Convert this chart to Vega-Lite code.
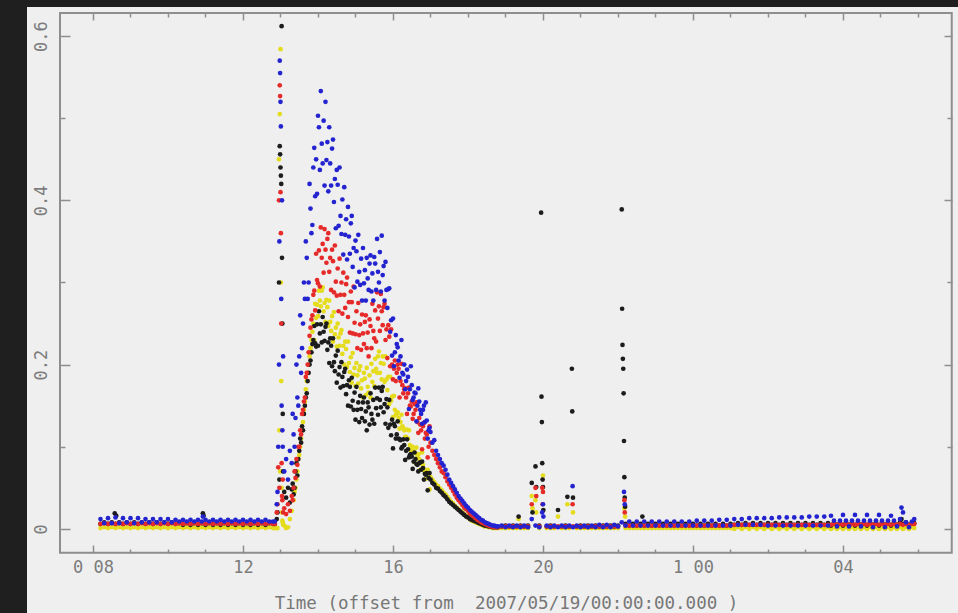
{
  "$schema": "https://vega.github.io/schema/vega-lite/v6.json",
  "width": 931,
  "height": 606,
  "autosize": {"type": "none"},
  "padding": {"left": 27, "top": 7, "right": 0, "bottom": 0},
  "background": "#1f1f1f",
  "config": {
    "view": {"fill": "#efefef", "stroke": null},
    "axis": {
      "domain": false,
      "grid": false,
      "labelFont": "DejaVu Sans Mono",
      "labelFontSize": 17,
      "labelColor": "#7c7c7c",
      "tickColor": "#8e8e8e",
      "tickWidth": 1.5,
      "titleFont": "DejaVu Sans Mono",
      "titleFontWeight": "normal",
      "titleFontSize": 17.5,
      "titleColor": "#777777"
    },
    "point": {"filled": true, "size": 22, "opacity": 1}
  },
  "resolve": {"axis": {"x": "independent", "y": "independent"}},
  "datasets": {
    "flux": [
      {"t": 8.2, "yellow": 0.001, "red": 0.006, "black": 0.006, "blue": 0.012},
      {"t": 8.3, "yellow": 0.002, "red": 0.007, "black": 0.008, "blue": 0.007},
      {"t": 8.4, "yellow": 0.001, "red": 0.006, "black": 0.006, "blue": 0.013},
      {"t": 8.5, "yellow": 0.002, "red": 0.007, "black": 0.008, "blue": 0.007},
      {"t": 8.58, "yellow": null, "red": null, "black": 0.019, "blue": null},
      {"t": 8.6, "yellow": 0.001, "red": 0.006, "black": 0.006, "blue": 0.014},
      {"t": 8.62, "yellow": null, "red": null, "black": 0.016, "blue": null},
      {"t": 8.7, "yellow": 0.002, "red": 0.007, "black": 0.008, "blue": 0.007},
      {"t": 8.8, "yellow": 0.001, "red": 0.006, "black": 0.006, "blue": 0.013},
      {"t": 8.9, "yellow": 0.002, "red": 0.007, "black": 0.008, "blue": 0.008},
      {"t": 9.0, "yellow": 0.001, "red": 0.006, "black": 0.006, "blue": 0.013},
      {"t": 9.1, "yellow": 0.002, "red": 0.007, "black": 0.008, "blue": 0.007},
      {"t": 9.2, "yellow": 0.001, "red": 0.006, "black": 0.006, "blue": 0.013},
      {"t": 9.3, "yellow": 0.002, "red": 0.007, "black": 0.008, "blue": 0.008},
      {"t": 9.4, "yellow": 0.001, "red": 0.006, "black": 0.006, "blue": 0.012},
      {"t": 9.5, "yellow": 0.002, "red": 0.007, "black": 0.008, "blue": 0.008},
      {"t": 9.6, "yellow": 0.001, "red": 0.006, "black": 0.006, "blue": 0.012},
      {"t": 9.7, "yellow": 0.002, "red": 0.007, "black": 0.008, "blue": 0.008},
      {"t": 9.8, "yellow": 0.001, "red": 0.006, "black": 0.006, "blue": 0.012},
      {"t": 9.9, "yellow": 0.002, "red": 0.007, "black": 0.008, "blue": 0.008},
      {"t": 10.0, "yellow": 0.001, "red": 0.006, "black": 0.006, "blue": 0.012},
      {"t": 10.1, "yellow": 0.002, "red": 0.007, "black": 0.008, "blue": 0.008},
      {"t": 10.2, "yellow": 0.001, "red": 0.006, "black": 0.006, "blue": 0.011},
      {"t": 10.3, "yellow": 0.002, "red": 0.007, "black": 0.007, "blue": 0.009},
      {"t": 10.4, "yellow": 0.001, "red": 0.006, "black": 0.005, "blue": 0.011},
      {"t": 10.5, "yellow": 0.002, "red": 0.007, "black": 0.007, "blue": 0.009},
      {"t": 10.6, "yellow": 0.001, "red": 0.006, "black": 0.005, "blue": 0.011},
      {"t": 10.7, "yellow": 0.002, "red": 0.007, "black": 0.007, "blue": 0.009},
      {"t": 10.8, "yellow": 0.001, "red": 0.006, "black": 0.005, "blue": 0.011},
      {"t": 10.9, "yellow": 0.002, "red": 0.007, "black": 0.007, "blue": 0.009},
      {"t": 10.93, "yellow": null, "red": null, "black": 0.019, "blue": 0.015},
      {"t": 10.95, "yellow": null, "red": null, "black": 0.016, "blue": null},
      {"t": 11.0, "yellow": 0.001, "red": 0.006, "black": 0.005, "blue": 0.011},
      {"t": 11.1, "yellow": 0.002, "red": 0.007, "black": 0.007, "blue": 0.009},
      {"t": 11.2, "yellow": 0.001, "red": 0.006, "black": 0.005, "blue": 0.011},
      {"t": 11.3, "yellow": 0.002, "red": 0.007, "black": 0.007, "blue": 0.009},
      {"t": 11.4, "yellow": 0.001, "red": 0.006, "black": 0.005, "blue": 0.011},
      {"t": 11.5, "yellow": 0.002, "red": 0.007, "black": 0.007, "blue": 0.009},
      {"t": 11.6, "yellow": 0.001, "red": 0.006, "black": 0.005, "blue": 0.011},
      {"t": 11.7, "yellow": 0.002, "red": 0.007, "black": 0.007, "blue": 0.009},
      {"t": 11.8, "yellow": 0.001, "red": 0.006, "black": 0.005, "blue": 0.011},
      {"t": 11.9, "yellow": 0.002, "red": 0.007, "black": 0.007, "blue": 0.009},
      {"t": 12.0, "yellow": 0.001, "red": 0.006, "black": 0.005, "blue": 0.011},
      {"t": 12.1, "yellow": 0.002, "red": 0.007, "black": 0.007, "blue": 0.009},
      {"t": 12.2, "yellow": 0.001, "red": 0.006, "black": 0.005, "blue": 0.011},
      {"t": 12.3, "yellow": 0.002, "red": 0.007, "black": 0.007, "blue": 0.009},
      {"t": 12.4, "yellow": 0.001, "red": 0.006, "black": 0.005, "blue": 0.011},
      {"t": 12.5, "yellow": 0.002, "red": 0.007, "black": 0.007, "blue": 0.009},
      {"t": 12.6, "yellow": 0.001, "red": 0.006, "black": 0.005, "blue": 0.011},
      {"t": 12.7, "yellow": 0.002, "red": 0.007, "black": 0.007, "blue": 0.009},
      {"t": 12.8, "yellow": 0.001, "red": 0.006, "black": 0.006, "blue": 0.009},
      {"t": 12.85, "yellow": 0.001, "red": 0.006, "black": 0.006, "blue": 0.009},
      {"t": 12.9, "yellow": 0.001, "red": 0.02, "black": 0.012, "blue": 0.03},
      {"t": 12.92, "yellow": 0.001, "red": 0.03, "black": 0.02, "blue": 0.045},
      {"t": 12.94, "yellow": null, "red": 0.075, "black": null, "blue": 0.1},
      {"t": 12.96, "yellow": 0.45, "red": 0.4, "black": 0.3, "blue": 0.2},
      {"t": 12.97, "yellow": 0.12, "red": 0.05, "black": 0.06, "blue": 0.35},
      {"t": 12.98, "yellow": 0.505, "red": 0.54, "black": 0.466, "blue": 0.57},
      {"t": 12.99, "yellow": 0.07, "red": 0.527, "black": 0.456, "blue": 0.555},
      {"t": 13.0, "yellow": 0.584, "red": 0.41, "black": 0.44, "blue": 0.52},
      {"t": 13.01, "yellow": 0.3, "red": 0.36, "black": 0.43, "blue": 0.49},
      {"t": 13.02, "yellow": 0.18, "red": 0.25, "black": 0.42, "blue": 0.28},
      {"t": 13.03, "yellow": 0.05, "red": 0.08, "black": 0.612, "blue": 0.15},
      {"t": 13.04, "yellow": 0.02, "red": 0.04, "black": 0.33, "blue": 0.4},
      {"t": 13.05, "yellow": 0.01, "red": 0.035, "black": 0.25, "blue": 0.12},
      {"t": 13.06, "yellow": 0.008, "red": 0.06, "black": 0.14, "blue": 0.1},
      {"t": 13.07, "yellow": 0.005, "red": 0.02, "black": 0.07, "blue": 0.21},
      {"t": 13.1, "yellow": 0.004, "red": 0.025, "black": 0.045, "blue": 0.07},
      {"t": 13.15, "yellow": 0.001, "red": 0.018, "black": 0.038, "blue": 0.085},
      {"t": 13.2, "yellow": 0.002, "red": 0.03, "black": 0.05, "blue": 0.06},
      {"t": 13.25, "yellow": 0.012, "red": 0.022, "black": 0.032, "blue": 0.095},
      {"t": 13.3, "yellow": 0.022, "red": 0.04, "black": 0.048, "blue": 0.08},
      {"t": 13.325, "yellow": null, "red": 0.035, "black": 0.055, "blue": 0.14},
      {"t": 13.35, "yellow": 0.035, "red": 0.05, "black": 0.042, "blue": 0.115},
      {"t": 13.375, "yellow": 0.045, "red": 0.07, "black": 0.05, "blue": 0.1},
      {"t": 13.4, "yellow": 0.05, "red": 0.062, "black": 0.07, "blue": 0.135},
      {"t": 13.425, "yellow": 0.06, "red": 0.085, "black": 0.08, "blue": 0.2},
      {"t": 13.45, "yellow": 0.07, "red": 0.078, "black": 0.065, "blue": 0.16},
      {"t": 13.475, "yellow": 0.085, "red": 0.1, "black": 0.085, "blue": 0.15},
      {"t": 13.5, "yellow": 0.09, "red": 0.1, "black": 0.095, "blue": 0.21},
      {"t": 13.525, "yellow": 0.1, "red": 0.12, "black": 0.11, "blue": 0.26},
      {"t": 13.55, "yellow": 0.11, "red": 0.115, "black": 0.105, "blue": 0.19},
      {"t": 13.575, "yellow": 0.12, "red": 0.14, "black": 0.125, "blue": 0.22},
      {"t": 13.6, "yellow": 0.13, "red": 0.145, "black": 0.12, "blue": 0.25},
      {"t": 13.625, "yellow": 0.145, "red": 0.155, "black": 0.14, "blue": 0.3},
      {"t": 13.65, "yellow": 0.155, "red": 0.16, "black": 0.15, "blue": 0.28},
      {"t": 13.675, "yellow": 0.17, "red": 0.185, "black": 0.16, "blue": 0.35},
      {"t": 13.7, "yellow": 0.18, "red": 0.19, "black": 0.165, "blue": 0.33},
      {"t": 13.725, "yellow": 0.19, "red": 0.2, "black": 0.18, "blue": 0.28},
      {"t": 13.75, "yellow": 0.2, "red": 0.215, "black": 0.19, "blue": 0.3},
      {"t": 13.775, "yellow": 0.21, "red": 0.235, "black": 0.2, "blue": 0.42},
      {"t": 13.8, "yellow": 0.22, "red": 0.245, "black": 0.205, "blue": 0.39},
      {"t": 13.825, "yellow": 0.23, "red": 0.255, "black": 0.215, "blue": 0.36},
      {"t": 13.85, "yellow": 0.24, "red": 0.26, "black": 0.225, "blue": 0.37},
      {"t": 13.875, "yellow": 0.25, "red": 0.285, "black": 0.23, "blue": 0.44},
      {"t": 13.9, "yellow": 0.23, "red": 0.29, "black": 0.247, "blue": 0.464},
      {"t": 13.925, "yellow": 0.274, "red": 0.266, "black": 0.226, "blue": 0.405},
      {"t": 13.95, "yellow": 0.257, "red": 0.335, "black": 0.222, "blue": 0.45},
      {"t": 13.975, "yellow": 0.273, "red": 0.303, "black": 0.249, "blue": 0.408},
      {"t": 14.0, "yellow": 0.259, "red": 0.299, "black": 0.223, "blue": 0.503},
      {"t": 14.025, "yellow": 0.29, "red": 0.339, "black": 0.265, "blue": 0.489},
      {"t": 14.05, "yellow": 0.278, "red": 0.295, "black": 0.238, "blue": 0.437},
      {"t": 14.075, "yellow": 0.271, "red": 0.367, "black": 0.249, "blue": 0.533},
      {"t": 14.1, "yellow": 0.29, "red": 0.33, "black": 0.227, "blue": 0.469},
      {"t": 14.125, "yellow": 0.294, "red": 0.347, "black": 0.258, "blue": 0.445},
      {"t": 14.15, "yellow": 0.265, "red": 0.312, "black": 0.24, "blue": 0.497},
      {"t": 14.175, "yellow": 0.275, "red": 0.365, "black": 0.229, "blue": 0.418},
      {"t": 14.2, "yellow": 0.252, "red": 0.34, "black": 0.246, "blue": 0.52},
      {"t": 14.225, "yellow": 0.279, "red": 0.324, "black": 0.25, "blue": 0.449},
      {"t": 14.25, "yellow": 0.27, "red": 0.353, "black": 0.218, "blue": 0.471},
      {"t": 14.275, "yellow": 0.247, "red": 0.36, "black": 0.227, "blue": 0.411},
      {"t": 14.3, "yellow": 0.278, "red": 0.313, "black": 0.202, "blue": 0.489},
      {"t": 14.325, "yellow": 0.252, "red": 0.33, "black": 0.232, "blue": 0.445},
      {"t": 14.35, "yellow": 0.241, "red": 0.291, "black": 0.223, "blue": 0.418},
      {"t": 14.375, "yellow": 0.259, "red": 0.34, "black": 0.198, "blue": 0.463},
      {"t": 14.4, "yellow": 0.228, "red": 0.326, "black": 0.232, "blue": 0.474},
      {"t": 14.425, "yellow": 0.264, "red": 0.288, "black": 0.203, "blue": 0.398},
      {"t": 14.45, "yellow": 0.237, "red": 0.345, "black": 0.192, "blue": 0.426},
      {"t": 14.475, "yellow": 0.245, "red": 0.301, "black": 0.211, "blue": 0.366},
      {"t": 14.5, "yellow": 0.222, "red": 0.284, "black": 0.178, "blue": 0.437},
      {"t": 14.525, "yellow": 0.25, "red": 0.317, "black": 0.217, "blue": 0.419},
      {"t": 14.55, "yellow": 0.233, "red": 0.265, "black": 0.188, "blue": 0.369},
      {"t": 14.575, "yellow": 0.223, "red": 0.329, "black": 0.197, "blue": 0.44},
      {"t": 14.6, "yellow": 0.238, "red": 0.285, "black": 0.172, "blue": 0.381},
      {"t": 14.625, "yellow": 0.242, "red": 0.3, "black": 0.203, "blue": 0.359},
      {"t": 14.65, "yellow": 0.213, "red": 0.262, "black": 0.185, "blue": 0.401},
      {"t": 14.675, "yellow": 0.223, "red": 0.312, "black": 0.174, "blue": 0.334},
      {"t": 14.7, "yellow": 0.2, "red": 0.285, "black": 0.191, "blue": 0.416},
      {"t": 14.725, "yellow": 0.228, "red": 0.269, "black": 0.195, "blue": 0.358},
      {"t": 14.75, "yellow": 0.219, "red": 0.298, "black": 0.164, "blue": 0.377},
      {"t": 14.775, "yellow": 0.197, "red": 0.306, "black": 0.175, "blue": 0.328},
      {"t": 14.8, "yellow": 0.228, "red": 0.258, "black": 0.15, "blue": 0.392},
      {"t": 14.825, "yellow": 0.202, "red": 0.276, "black": 0.181, "blue": 0.356},
      {"t": 14.85, "yellow": 0.191, "red": 0.239, "black": 0.173, "blue": 0.335},
      {"t": 14.875, "yellow": 0.209, "red": 0.289, "black": 0.149, "blue": 0.372},
      {"t": 14.9, "yellow": 0.178, "red": 0.276, "black": 0.184, "blue": 0.381},
      {"t": 14.925, "yellow": 0.214, "red": 0.238, "black": 0.156, "blue": 0.319},
      {"t": 14.95, "yellow": 0.188, "red": 0.295, "black": 0.145, "blue": 0.342},
      {"t": 14.975, "yellow": 0.196, "red": 0.251, "black": 0.166, "blue": 0.294},
      {"t": 15.0, "yellow": 0.174, "red": 0.237, "black": 0.133, "blue": 0.351},
      {"t": 15.025, "yellow": 0.202, "red": 0.265, "black": 0.173, "blue": 0.338},
      {"t": 15.05, "yellow": 0.187, "red": 0.22, "black": 0.145, "blue": 0.301},
      {"t": 15.075, "yellow": 0.177, "red": 0.275, "black": 0.154, "blue": 0.358},
      {"t": 15.1, "yellow": 0.193, "red": 0.236, "black": 0.13, "blue": 0.313},
      {"t": 15.125, "yellow": 0.198, "red": 0.249, "black": 0.162, "blue": 0.297},
      {"t": 15.15, "yellow": 0.171, "red": 0.218, "black": 0.146, "blue": 0.329},
      {"t": 15.175, "yellow": 0.181, "red": 0.261, "black": 0.135, "blue": 0.278},
      {"t": 15.2, "yellow": 0.16, "red": 0.238, "black": 0.154, "blue": 0.342},
      {"t": 15.225, "yellow": 0.19, "red": 0.225, "black": 0.16, "blue": 0.299},
      {"t": 15.25, "yellow": 0.183, "red": 0.252, "black": 0.131, "blue": 0.315},
      {"t": 15.275, "yellow": 0.163, "red": 0.26, "black": 0.143, "blue": 0.278},
      {"t": 15.3, "yellow": 0.196, "red": 0.22, "black": 0.12, "blue": 0.33},
      {"t": 15.325, "yellow": 0.173, "red": 0.239, "black": 0.154, "blue": 0.305},
      {"t": 15.35, "yellow": 0.166, "red": 0.21, "black": 0.148, "blue": 0.291},
      {"t": 15.375, "yellow": 0.187, "red": 0.255, "black": 0.127, "blue": 0.323},
      {"t": 15.4, "yellow": 0.16, "red": 0.247, "black": 0.165, "blue": 0.333},
      {"t": 15.425, "yellow": 0.201, "red": 0.22, "black": 0.14, "blue": 0.289},
      {"t": 15.45, "yellow": 0.179, "red": 0.274, "black": 0.133, "blue": 0.311},
      {"t": 15.475, "yellow": 0.192, "red": 0.241, "black": 0.157, "blue": 0.278},
      {"t": 15.5, "yellow": 0.174, "red": 0.232, "black": 0.128, "blue": 0.331},
      {"t": 15.525, "yellow": 0.207, "red": 0.266, "black": 0.172, "blue": 0.323},
      {"t": 15.55, "yellow": 0.195, "red": 0.228, "black": 0.147, "blue": 0.291},
      {"t": 15.575, "yellow": 0.19, "red": 0.288, "black": 0.159, "blue": 0.353},
      {"t": 15.6, "yellow": 0.21, "red": 0.256, "black": 0.139, "blue": 0.313},
      {"t": 15.625, "yellow": 0.216, "red": 0.271, "black": 0.172, "blue": 0.3},
      {"t": 15.65, "yellow": 0.19, "red": 0.241, "black": 0.157, "blue": 0.337},
      {"t": 15.675, "yellow": 0.202, "red": 0.286, "black": 0.148, "blue": 0.289},
      {"t": 15.7, "yellow": 0.182, "red": 0.265, "black": 0.168, "blue": 0.357},
      {"t": 15.725, "yellow": 0.21, "red": 0.248, "black": 0.173, "blue": 0.309},
      {"t": 15.75, "yellow": 0.201, "red": 0.27, "black": 0.142, "blue": 0.32},
      {"t": 15.775, "yellow": 0.179, "red": 0.274, "black": 0.152, "blue": 0.278},
      {"t": 15.8, "yellow": 0.21, "red": 0.23, "black": 0.128, "blue": 0.325},
      {"t": 15.825, "yellow": 0.182, "red": 0.243, "black": 0.158, "blue": 0.291},
      {"t": 15.85, "yellow": 0.169, "red": 0.208, "black": 0.148, "blue": 0.269},
      {"t": 15.875, "yellow": 0.185, "red": 0.248, "black": 0.123, "blue": 0.292},
      {"t": 15.9, "yellow": 0.152, "red": 0.234, "black": 0.157, "blue": 0.293},
      {"t": 15.925, "yellow": 0.185, "red": 0.198, "black": 0.127, "blue": 0.24},
      {"t": 15.95, "yellow": 0.156, "red": 0.243, "black": 0.114, "blue": 0.254},
      {"t": 15.975, "yellow": 0.161, "red": 0.2, "black": 0.133, "blue": 0.211},
      {"t": 16.0, "yellow": 0.136, "red": 0.182, "black": 0.098, "blue": 0.256},
      {"t": 16.025, "yellow": 0.162, "red": 0.195, "black": 0.128, "blue": 0.198},
      {"t": 16.05, "yellow": 0.145, "red": 0.205, "black": 0.125, "blue": 0.215},
      {"t": 16.075, "yellow": 0.139, "red": 0.18, "black": 0.11, "blue": 0.236},
      {"t": 16.1, "yellow": 0.14, "red": 0.19, "black": 0.115, "blue": 0.225},
      {"t": 16.125, "yellow": 0.142, "red": 0.2, "black": 0.131, "blue": 0.221},
      {"t": 16.15, "yellow": 0.135, "red": 0.195, "black": 0.11, "blue": 0.205},
      {"t": 16.175, "yellow": 0.122, "red": 0.16, "black": 0.109, "blue": 0.184},
      {"t": 16.2, "yellow": 0.13, "red": 0.18, "black": 0.108, "blue": 0.21},
      {"t": 16.225, "yellow": 0.139, "red": 0.201, "black": 0.098, "blue": 0.23},
      {"t": 16.25, "yellow": 0.125, "red": 0.175, "black": 0.1, "blue": 0.19},
      {"t": 16.275, "yellow": 0.123, "red": 0.165, "black": 0.109, "blue": 0.188},
      {"t": 16.3, "yellow": 0.12, "red": 0.17, "black": 0.102, "blue": 0.2},
      {"t": 16.325, "yellow": 0.112, "red": 0.171, "black": 0.084, "blue": 0.17},
      {"t": 16.35, "yellow": 0.112, "red": 0.16, "black": 0.095, "blue": 0.18},
      {"t": 16.375, "yellow": 0.121, "red": 0.14, "black": 0.109, "blue": 0.194},
      {"t": 16.4, "yellow": 0.11, "red": 0.165, "black": 0.097, "blue": 0.185},
      {"t": 16.425, "yellow": 0.12, "red": 0.172, "black": 0.087, "blue": 0.146},
      {"t": 16.45, "yellow": 0.102, "red": 0.15, "black": 0.09, "blue": 0.17},
      {"t": 16.475, "yellow": 0.096, "red": 0.149, "black": 0.091, "blue": 0.198},
      {"t": 16.5, "yellow": 0.1, "red": 0.155, "black": 0.088, "blue": 0.175},
      {"t": 16.525, "yellow": 0.1, "red": 0.134, "black": 0.073, "blue": 0.157},
      {"t": 16.55, "yellow": 0.095, "red": 0.14, "black": 0.082, "blue": 0.16},
      {"t": 16.575, "yellow": 0.081, "red": 0.152, "black": 0.093, "blue": 0.166},
      {"t": 16.6, "yellow": 0.092, "red": 0.145, "black": 0.085, "blue": 0.165},
      {"t": 16.625, "yellow": 0.099, "red": 0.154, "black": 0.079, "blue": 0.131},
      {"t": 16.65, "yellow": 0.087, "red": 0.13, "black": 0.078, "blue": 0.15},
      {"t": 16.675, "yellow": 0.091, "red": 0.117, "black": 0.07, "blue": 0.171},
      {"t": 16.7, "yellow": 0.085, "red": 0.135, "black": 0.08, "blue": 0.155},
      {"t": 16.725, "yellow": 0.072, "red": 0.127, "black": 0.081, "blue": 0.145},
      {"t": 16.75, "yellow": 0.08, "red": 0.12, "black": 0.072, "blue": 0.14},
      {"t": 16.775, "yellow": 0.093, "red": 0.097, "black": 0.082, "blue": 0.128},
      {"t": 16.8, "yellow": 0.078, "red": 0.125, "black": 0.074, "blue": 0.145},
      {"t": 16.825, "yellow": 0.071, "red": 0.129, "black": 0.06, "blue": 0.15},
      {"t": 16.85, "yellow": 0.072, "red": 0.11, "black": 0.067, "blue": 0.13},
      {"t": 16.875, "yellow": 0.061, "red": 0.117, "black": 0.066, "blue": 0.154},
      {"t": 16.9, "yellow": 0.07, "red": 0.115, "black": 0.068, "blue": 0.132},
      {"t": 16.925, "yellow": 0.072, "red": 0.087, "black": 0.047, "blue": 0.11},
      {"t": 16.95, "yellow": 0.065, "red": 0.1, "black": 0.062, "blue": 0.12},
      {"t": 16.975, "yellow": 0.048, "red": 0.125, "black": 0.068, "blue": 0.123},
      {"t": 17.0, "yellow": 0.063, "red": 0.105, "black": 0.06, "blue": 0.118},
      {"t": 17.05, "yellow": 0.06, "red": 0.095, "black": 0.056, "blue": 0.105},
      {"t": 17.1, "yellow": 0.057, "red": 0.09, "black": 0.054, "blue": 0.108},
      {"t": 17.15, "yellow": 0.054, "red": 0.085, "black": 0.05, "blue": 0.095},
      {"t": 17.2, "yellow": 0.052, "red": 0.08, "black": 0.049, "blue": 0.09},
      {"t": 17.25, "yellow": 0.049, "red": 0.075, "black": 0.046, "blue": 0.085},
      {"t": 17.3, "yellow": 0.047, "red": 0.07, "black": 0.044, "blue": 0.08},
      {"t": 17.35, "yellow": 0.044, "red": 0.068, "black": 0.041, "blue": 0.077},
      {"t": 17.4, "yellow": 0.042, "red": 0.063, "black": 0.039, "blue": 0.072},
      {"t": 17.45, "yellow": 0.039, "red": 0.058, "black": 0.036, "blue": 0.066},
      {"t": 17.5, "yellow": 0.036, "red": 0.054, "black": 0.033, "blue": 0.06},
      {"t": 17.55, "yellow": 0.033, "red": 0.05, "black": 0.031, "blue": 0.056},
      {"t": 17.6, "yellow": 0.031, "red": 0.046, "black": 0.029, "blue": 0.052},
      {"t": 17.65, "yellow": 0.028, "red": 0.042, "black": 0.027, "blue": 0.048},
      {"t": 17.7, "yellow": 0.026, "red": 0.038, "black": 0.025, "blue": 0.044},
      {"t": 17.75, "yellow": 0.024, "red": 0.035, "black": 0.023, "blue": 0.04},
      {"t": 17.8, "yellow": 0.022, "red": 0.032, "black": 0.021, "blue": 0.037},
      {"t": 17.85, "yellow": 0.02, "red": 0.029, "black": 0.019, "blue": 0.034},
      {"t": 17.9, "yellow": 0.018, "red": 0.026, "black": 0.017, "blue": 0.031},
      {"t": 17.95, "yellow": 0.016, "red": 0.024, "black": 0.015, "blue": 0.028},
      {"t": 18.0, "yellow": 0.014, "red": 0.022, "black": 0.014, "blue": 0.026},
      {"t": 18.05, "yellow": 0.012, "red": 0.019, "black": 0.012, "blue": 0.023},
      {"t": 18.1, "yellow": 0.01, "red": 0.017, "black": 0.011, "blue": 0.021},
      {"t": 18.15, "yellow": 0.009, "red": 0.015, "black": 0.01, "blue": 0.019},
      {"t": 18.2, "yellow": 0.008, "red": 0.013, "black": 0.009, "blue": 0.017},
      {"t": 18.25, "yellow": 0.007, "red": 0.011, "black": 0.008, "blue": 0.015},
      {"t": 18.3, "yellow": 0.006, "red": 0.01, "black": 0.007, "blue": 0.013},
      {"t": 18.35, "yellow": 0.005, "red": 0.008, "black": 0.006, "blue": 0.011},
      {"t": 18.4, "yellow": 0.004, "red": 0.007, "black": 0.005, "blue": 0.01},
      {"t": 18.45, "yellow": 0.003, "red": 0.006, "black": 0.004, "blue": 0.008},
      {"t": 18.5, "yellow": 0.003, "red": 0.005, "black": 0.004, "blue": 0.007},
      {"t": 18.55, "yellow": 0.002, "red": 0.004, "black": 0.003, "blue": 0.006},
      {"t": 18.6, "yellow": 0.002, "red": 0.003, "black": 0.003, "blue": 0.005},
      {"t": 18.65, "yellow": 0.001, "red": 0.003, "black": 0.002, "blue": 0.004},
      {"t": 18.7, "yellow": 0.001, "red": 0.002, "black": 0.002, "blue": 0.004},
      {"t": 18.75, "yellow": 0.001, "red": 0.002, "black": 0.002, "blue": 0.003},
      {"t": 18.8, "yellow": 0.001, "red": 0.002, "black": 0.002, "blue": 0.003},
      {"t": 18.9, "yellow": 0.001, "red": 0.003, "black": 0.003, "blue": 0.004},
      {"t": 19.0, "yellow": 0.001, "red": 0.003, "black": 0.004, "blue": 0.002},
      {"t": 19.1, "yellow": 0.001, "red": 0.003, "black": 0.003, "blue": 0.004},
      {"t": 19.2, "yellow": 0.001, "red": 0.003, "black": 0.004, "blue": 0.002},
      {"t": 19.3, "yellow": 0.001, "red": 0.003, "black": 0.003, "blue": 0.004},
      {"t": 19.35, "yellow": 0.012, "red": null, "black": 0.015, "blue": null},
      {"t": 19.4, "yellow": 0.001, "red": 0.003, "black": 0.004, "blue": 0.002},
      {"t": 19.5, "yellow": 0.001, "red": 0.003, "black": 0.003, "blue": 0.004},
      {"t": 19.6, "yellow": 0.001, "red": 0.003, "black": 0.004, "blue": 0.002},
      {"t": 19.7, "yellow": 0.04, "red": 0.03, "black": 0.056, "blue": 0.012},
      {"t": 19.72, "yellow": 0.025, "red": null, "black": 0.02, "blue": null},
      {"t": 19.8, "yellow": 0.035, "red": 0.05, "black": 0.076, "blue": 0.004},
      {"t": 19.82, "yellow": 0.02, "red": 0.04, "black": 0.051, "blue": null},
      {"t": 19.9, "yellow": 0.001, "red": 0.003, "black": 0.004, "blue": 0.002},
      {"t": 19.95, "yellow": null, "red": null, "black": 0.385, "blue": null},
      {"t": 19.96, "yellow": null, "red": null, "black": 0.161, "blue": null},
      {"t": 19.97, "yellow": null, "red": null, "black": 0.13, "blue": null},
      {"t": 19.98, "yellow": null, "red": 0.05, "black": 0.08, "blue": 0.02},
      {"t": 19.99, "yellow": 0.05, "red": 0.03, "black": 0.06, "blue": null},
      {"t": 20.0, "yellow": 0.065, "red": 0.045, "black": 0.051, "blue": 0.03},
      {"t": 20.01, "yellow": null, "red": null, "black": 0.023, "blue": 0.015},
      {"t": 20.1, "yellow": 0.001, "red": 0.003, "black": 0.003, "blue": 0.004},
      {"t": 20.2, "yellow": 0.001, "red": 0.003, "black": 0.004, "blue": 0.002},
      {"t": 20.3, "yellow": 0.001, "red": 0.003, "black": 0.003, "blue": 0.004},
      {"t": 20.4, "yellow": 0.015, "red": 0.003, "black": 0.023, "blue": 0.002},
      {"t": 20.5, "yellow": 0.001, "red": 0.003, "black": 0.003, "blue": 0.004},
      {"t": 20.6, "yellow": 0.001, "red": 0.003, "black": 0.004, "blue": 0.002},
      {"t": 20.65, "yellow": 0.03, "red": null, "black": 0.039, "blue": null},
      {"t": 20.7, "yellow": 0.001, "red": 0.003, "black": 0.003, "blue": 0.004},
      {"t": 20.77, "yellow": null, "red": null, "black": 0.195, "blue": null},
      {"t": 20.78, "yellow": null, "red": null, "black": 0.143, "blue": null},
      {"t": 20.79, "yellow": null, "red": 0.03, "black": null, "blue": 0.052},
      {"t": 20.8, "yellow": 0.02, "red": 0.003, "black": 0.038, "blue": 0.002},
      {"t": 20.9, "yellow": 0.001, "red": 0.003, "black": 0.003, "blue": 0.004},
      {"t": 21.0, "yellow": 0.001, "red": 0.003, "black": 0.004, "blue": 0.002},
      {"t": 21.1, "yellow": 0.001, "red": 0.003, "black": 0.003, "blue": 0.004},
      {"t": 21.2, "yellow": 0.001, "red": 0.003, "black": 0.004, "blue": 0.002},
      {"t": 21.3, "yellow": 0.001, "red": 0.003, "black": 0.003, "blue": 0.004},
      {"t": 21.4, "yellow": 0.001, "red": 0.003, "black": 0.004, "blue": 0.002},
      {"t": 21.5, "yellow": 0.001, "red": 0.003, "black": 0.003, "blue": 0.005},
      {"t": 21.6, "yellow": 0.001, "red": 0.003, "black": 0.004, "blue": 0.002},
      {"t": 21.7, "yellow": 0.001, "red": 0.003, "black": 0.003, "blue": 0.005},
      {"t": 21.8, "yellow": 0.001, "red": 0.003, "black": 0.004, "blue": 0.002},
      {"t": 21.9, "yellow": 0.001, "red": 0.003, "black": 0.003, "blue": 0.005},
      {"t": 22.0, "yellow": 0.001, "red": 0.003, "black": 0.004, "blue": 0.003},
      {"t": 22.1, "yellow": null, "red": null, "black": 0.389, "blue": 0.008},
      {"t": 22.11, "yellow": null, "red": null, "black": 0.268, "blue": null},
      {"t": 22.12, "yellow": null, "red": null, "black": 0.224, "blue": null},
      {"t": 22.13, "yellow": null, "red": null, "black": 0.207, "blue": null},
      {"t": 22.14, "yellow": null, "red": null, "black": 0.195, "blue": null},
      {"t": 22.15, "yellow": null, "red": null, "black": 0.165, "blue": null},
      {"t": 22.16, "yellow": null, "red": null, "black": 0.107, "blue": 0.045},
      {"t": 22.17, "yellow": 0.025, "red": 0.035, "black": 0.063, "blue": null},
      {"t": 22.18, "yellow": null, "red": 0.02, "black": 0.038, "blue": 0.03},
      {"t": 22.19, "yellow": 0.015, "red": null, "black": 0.027, "blue": null},
      {"t": 22.2, "yellow": 0.001, "red": 0.004, "black": 0.006, "blue": 0.004},
      {"t": 22.3, "yellow": 0.001, "red": 0.004, "black": 0.004, "blue": 0.009},
      {"t": 22.4, "yellow": 0.001, "red": 0.004, "black": 0.006, "blue": 0.004},
      {"t": 22.5, "yellow": 0.001, "red": 0.004, "black": 0.004, "blue": 0.009},
      {"t": 22.6, "yellow": 0.001, "red": 0.004, "black": 0.006, "blue": 0.004},
      {"t": 22.65, "yellow": null, "red": null, "black": 0.015, "blue": null},
      {"t": 22.7, "yellow": 0.001, "red": 0.004, "black": 0.004, "blue": 0.009},
      {"t": 22.8, "yellow": 0.001, "red": 0.004, "black": 0.006, "blue": 0.004},
      {"t": 22.9, "yellow": 0.001, "red": 0.004, "black": 0.004, "blue": 0.009},
      {"t": 23.0, "yellow": 0.001, "red": 0.004, "black": 0.006, "blue": 0.004},
      {"t": 23.1, "yellow": 0.001, "red": 0.004, "black": 0.004, "blue": 0.009},
      {"t": 23.2, "yellow": 0.001, "red": 0.004, "black": 0.006, "blue": 0.004},
      {"t": 23.3, "yellow": 0.001, "red": 0.004, "black": 0.004, "blue": 0.009},
      {"t": 23.4, "yellow": 0.001, "red": 0.004, "black": 0.006, "blue": 0.004},
      {"t": 23.5, "yellow": 0.001, "red": 0.004, "black": 0.004, "blue": 0.009},
      {"t": 23.6, "yellow": 0.001, "red": 0.004, "black": 0.006, "blue": 0.004},
      {"t": 23.7, "yellow": 0.001, "red": 0.004, "black": 0.004, "blue": 0.009},
      {"t": 23.8, "yellow": 0.001, "red": 0.004, "black": 0.006, "blue": 0.004},
      {"t": 23.9, "yellow": 0.001, "red": 0.004, "black": 0.004, "blue": 0.009},
      {"t": 24.0, "yellow": 0.001, "red": 0.004, "black": 0.006, "blue": 0.004},
      {"t": 24.1, "yellow": 0.001, "red": 0.004, "black": 0.004, "blue": 0.01},
      {"t": 24.2, "yellow": 0.001, "red": 0.004, "black": 0.006, "blue": 0.004},
      {"t": 24.3, "yellow": 0.001, "red": 0.004, "black": 0.004, "blue": 0.01},
      {"t": 24.4, "yellow": 0.001, "red": 0.004, "black": 0.006, "blue": 0.004},
      {"t": 24.5, "yellow": 0.001, "red": 0.004, "black": 0.004, "blue": 0.01},
      {"t": 24.6, "yellow": 0.001, "red": 0.004, "black": 0.006, "blue": 0.004},
      {"t": 24.7, "yellow": 0.001, "red": 0.004, "black": 0.004, "blue": 0.011},
      {"t": 24.8, "yellow": 0.001, "red": 0.004, "black": 0.006, "blue": 0.004},
      {"t": 24.9, "yellow": 0.001, "red": 0.004, "black": 0.004, "blue": 0.011},
      {"t": 25.0, "yellow": 0.001, "red": 0.004, "black": 0.006, "blue": 0.004},
      {"t": 25.1, "yellow": 0.0, "red": 0.005, "black": 0.005, "blue": 0.012},
      {"t": 25.2, "yellow": 0.002, "red": 0.005, "black": 0.007, "blue": 0.005},
      {"t": 25.3, "yellow": 0.0, "red": 0.005, "black": 0.005, "blue": 0.012},
      {"t": 25.4, "yellow": 0.002, "red": 0.005, "black": 0.007, "blue": 0.005},
      {"t": 25.5, "yellow": 0.0, "red": 0.005, "black": 0.005, "blue": 0.013},
      {"t": 25.6, "yellow": 0.002, "red": 0.005, "black": 0.007, "blue": 0.005},
      {"t": 25.7, "yellow": 0.0, "red": 0.005, "black": 0.005, "blue": 0.013},
      {"t": 25.8, "yellow": 0.002, "red": 0.005, "black": 0.007, "blue": 0.005},
      {"t": 25.9, "yellow": 0.0, "red": 0.005, "black": 0.005, "blue": 0.013},
      {"t": 26.0, "yellow": 0.002, "red": 0.005, "black": 0.007, "blue": 0.004},
      {"t": 26.1, "yellow": 0.0, "red": 0.005, "black": 0.005, "blue": 0.013},
      {"t": 26.2, "yellow": 0.002, "red": 0.005, "black": 0.007, "blue": 0.004},
      {"t": 26.3, "yellow": 0.0, "red": 0.005, "black": 0.005, "blue": 0.014},
      {"t": 26.4, "yellow": 0.002, "red": 0.005, "black": 0.007, "blue": 0.004},
      {"t": 26.5, "yellow": 0.0, "red": 0.005, "black": 0.005, "blue": 0.014},
      {"t": 26.6, "yellow": 0.002, "red": 0.005, "black": 0.007, "blue": 0.004},
      {"t": 26.7, "yellow": 0.0, "red": 0.005, "black": 0.005, "blue": 0.014},
      {"t": 26.8, "yellow": 0.002, "red": 0.005, "black": 0.007, "blue": 0.004},
      {"t": 26.9, "yellow": 0.0, "red": 0.005, "black": 0.005, "blue": 0.014},
      {"t": 27.0, "yellow": 0.002, "red": 0.005, "black": 0.007, "blue": 0.004},
      {"t": 27.1, "yellow": 0.0, "red": 0.005, "black": 0.005, "blue": 0.015},
      {"t": 27.2, "yellow": 0.002, "red": 0.005, "black": 0.007, "blue": 0.004},
      {"t": 27.3, "yellow": 0.0, "red": 0.005, "black": 0.005, "blue": 0.015},
      {"t": 27.4, "yellow": 0.002, "red": 0.005, "black": 0.007, "blue": 0.004},
      {"t": 27.5, "yellow": 0.0, "red": 0.005, "black": 0.005, "blue": 0.015},
      {"t": 27.6, "yellow": 0.002, "red": 0.005, "black": 0.007, "blue": 0.004},
      {"t": 27.68, "yellow": 0.0, "red": 0.005, "black": 0.004, "blue": 0.016},
      {"t": 27.76, "yellow": 0.002, "red": 0.006, "black": 0.008, "blue": 0.01},
      {"t": 27.84, "yellow": 0.0, "red": 0.005, "black": 0.005, "blue": 0.003},
      {"t": 27.92, "yellow": 0.002, "red": 0.006, "black": 0.008, "blue": 0.01},
      {"t": 28.0, "yellow": 0.0, "red": 0.005, "black": 0.004, "blue": 0.017},
      {"t": 28.08, "yellow": 0.002, "red": 0.006, "black": 0.008, "blue": 0.01},
      {"t": 28.16, "yellow": 0.0, "red": 0.005, "black": 0.005, "blue": 0.003},
      {"t": 28.24, "yellow": 0.002, "red": 0.006, "black": 0.008, "blue": 0.01},
      {"t": 28.32, "yellow": 0.0, "red": 0.005, "black": 0.004, "blue": 0.017},
      {"t": 28.4, "yellow": 0.002, "red": 0.006, "black": 0.008, "blue": 0.01},
      {"t": 28.48, "yellow": 0.0, "red": 0.005, "black": 0.005, "blue": 0.003},
      {"t": 28.56, "yellow": 0.002, "red": 0.006, "black": 0.008, "blue": 0.01},
      {"t": 28.64, "yellow": 0.0, "red": 0.005, "black": 0.004, "blue": 0.017},
      {"t": 28.72, "yellow": 0.002, "red": 0.006, "black": 0.008, "blue": 0.01},
      {"t": 28.8, "yellow": 0.0, "red": 0.005, "black": 0.005, "blue": 0.002},
      {"t": 28.88, "yellow": 0.002, "red": 0.006, "black": 0.008, "blue": 0.01},
      {"t": 28.96, "yellow": 0.0, "red": 0.005, "black": 0.004, "blue": 0.017},
      {"t": 29.04, "yellow": 0.002, "red": 0.006, "black": 0.008, "blue": 0.01},
      {"t": 29.12, "yellow": 0.0, "red": 0.005, "black": 0.005, "blue": 0.002},
      {"t": 29.2, "yellow": 0.002, "red": 0.006, "black": 0.008, "blue": 0.01},
      {"t": 29.28, "yellow": 0.0, "red": 0.005, "black": 0.004, "blue": 0.016},
      {"t": 29.36, "yellow": 0.002, "red": 0.006, "black": 0.008, "blue": 0.01},
      {"t": 29.44, "yellow": 0.0, "red": 0.005, "black": 0.005, "blue": 0.003},
      {"t": 29.52, "yellow": 0.002, "red": 0.006, "black": 0.008, "blue": 0.012},
      {"t": 29.56, "yellow": null, "red": null, "black": 0.012, "blue": 0.026},
      {"t": 29.6, "yellow": 0.0, "red": 0.005, "black": 0.006, "blue": 0.02},
      {"t": 29.68, "yellow": 0.002, "red": 0.006, "black": 0.008, "blue": 0.008},
      {"t": 29.76, "yellow": 0.0, "red": 0.005, "black": 0.005, "blue": 0.002},
      {"t": 29.84, "yellow": 0.002, "red": 0.006, "black": 0.008, "blue": 0.009},
      {"t": 29.9, "yellow": 0.001, "red": 0.006, "black": 0.007, "blue": 0.012}
    ]
  },
  "layer": [
    {
      "data": {"values": [{}]},
      "mark": {"type": "rect", "fillOpacity": 0, "stroke": "#8e8e8e", "strokeWidth": 2},
      "encoding": {
        "x": {
          "datum": 7.12,
          "type": "quantitative",
          "scale": {"domain": [6.24, 31.067], "nice": false, "zero": false},
          "axis": {
            "orient": "top",
            "offset": -6,
            "title": null,
            "labels": false,
            "values": [8, 9, 10, 11, 12, 13, 14, 15, 16, 17, 18, 19, 20, 21, 22, 23, 24, 25, 26, 27, 28, 29, 30],
            "tickSize": {"condition": {"test": "datum.value % 4 == 0", "value": -7}, "value": -4}
          }
        },
        "x2": {"datum": 30.9},
        "y": {
          "datum": -0.029,
          "type": "quantitative",
          "scale": {"domain": [-0.1024, 0.6354], "nice": false, "zero": false},
          "axis": {
            "orient": "right",
            "offset": -6,
            "title": null,
            "labels": false,
            "values": [0, 0.1, 0.2, 0.3, 0.4, 0.5, 0.6],
            "tickSize": {"condition": {"test": "datum.value == 0 || datum.value == 0.2 || datum.value == 0.4 || datum.value == 0.6", "value": -8}, "value": -5}
          }
        },
        "y2": {"datum": 0.628}
      }
    },
    {
      "data": {"name": "flux"},
      "mark": {"type": "point", "color": "#e4dc1c"},
      "encoding": {
        "x": {
          "field": "t",
          "type": "quantitative",
          "scale": {"domain": [6.24, 31.067], "nice": false, "zero": false},
          "axis": {
            "orient": "bottom",
            "offset": -60,
            "title": "Time (offset from \u00a02007/05/19/00:00:00.000 )",
            "titleX": 479,
            "titleY": 50,
            "titleBaseline": "middle",
            "values": [8, 9, 10, 11, 12, 13, 14, 15, 16, 17, 18, 19, 20, 21, 22, 23, 24, 25, 26, 27, 28, 29, 30],
            "labelExpr": "datum.value == 8 ? '0 08' : datum.value == 24 ? '1 00' : datum.value % 4 == 0 ? (datum.value % 24 < 10 ? '0' + (datum.value % 24) : '' + (datum.value % 24)) : ''",
            "labelPadding": 14,
            "tickSize": {"condition": {"test": "datum.value % 4 == 0", "value": -8}, "value": -4}
          }
        },
        "y": {
          "field": "yellow",
          "type": "quantitative",
          "scale": {"domain": [-0.1024, 0.6354], "nice": false, "zero": false},
          "axis": {
            "orient": "left",
            "offset": -33,
            "title": null,
            "values": [0, 0.1, 0.2, 0.3, 0.4, 0.5, 0.6],
            "labelExpr": "datum.value == 0 ? '0' : (datum.value == 0.2 || datum.value == 0.4 || datum.value == 0.6) ? format(datum.value, '.1f') : ''",
            "labelAngle": 270,
            "labelPadding": 20,
            "tickSize": {"condition": {"test": "datum.value == 0 || datum.value == 0.2 || datum.value == 0.4 || datum.value == 0.6", "value": -10}, "value": -5}
          }
        }
      }
    },
    {
      "data": {"name": "flux"},
      "mark": {"type": "point", "color": "#1c1c1c"},
      "encoding": {
        "x": {"field": "t", "type": "quantitative", "axis": null},
        "y": {"field": "black", "type": "quantitative", "axis": null}
      }
    },
    {
      "data": {"name": "flux"},
      "mark": {"type": "point", "color": "#e62a2a"},
      "encoding": {
        "x": {"field": "t", "type": "quantitative", "axis": null},
        "y": {"field": "red", "type": "quantitative", "axis": null}
      }
    },
    {
      "data": {"name": "flux"},
      "mark": {"type": "point", "color": "#2323cf"},
      "encoding": {
        "x": {"field": "t", "type": "quantitative", "axis": null},
        "y": {"field": "blue", "type": "quantitative", "axis": null}
      }
    }
  ]
}
